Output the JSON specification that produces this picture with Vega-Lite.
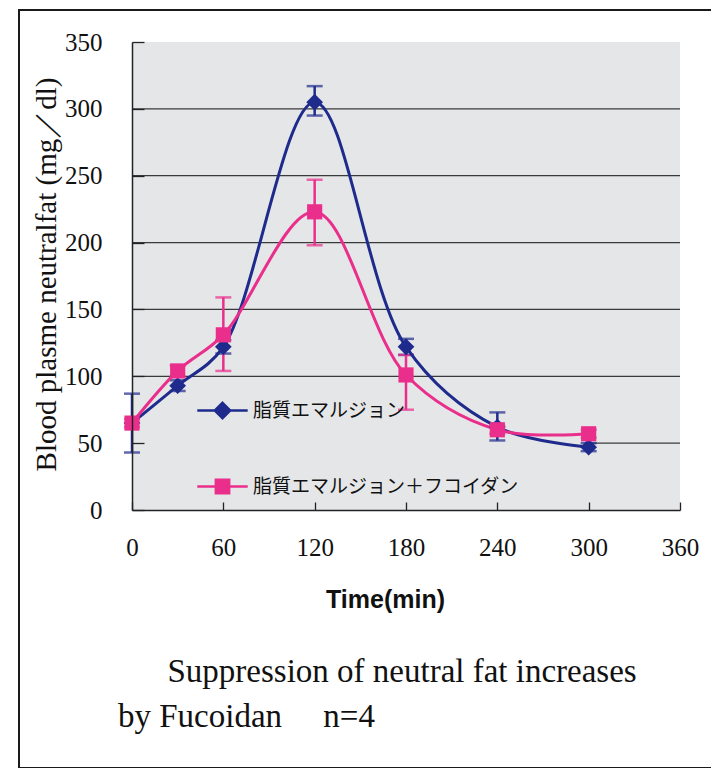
{
  "$schema": "https://vega.github.io/schema/vega-lite/v6.json",
  "width": 694,
  "height": 758,
  "padding": {"left": 19, "top": 10, "right": 0, "bottom": 0},
  "autosize": {"type": "pad"},
  "background": "white",
  "config": {
    "view": {"stroke": "#1a1a1a", "strokeWidth": 2},
    "font": "Liberation Serif"
  },
  "title": {
    "text": [
      "\u200b\u00a0\u00a0\u00a0\u00a0\u00a0\u00a0Suppression of neutral fat increases",
      "by Fucoidan\u00a0\u00a0\u00a0\u00a0\u00a0n=4"
    ],
    "orient": "bottom",
    "anchor": "start",
    "frame": "group",
    "offset": -112,
    "dx": 99,
    "baseline": "top",
    "font": "Liberation Serif",
    "fontSize": 33,
    "fontWeight": "normal",
    "color": "#111111",
    "lineHeight": 45
  },
  "data": {
    "values": [
      {"series": "脂質エマルジョン", "time": 0, "mean": 65, "lo": 43, "hi": 87},
      {"series": "脂質エマルジョン", "time": 30, "mean": 93, "lo": 89, "hi": 97},
      {"series": "脂質エマルジョン", "time": 60, "mean": 122, "lo": 117, "hi": 127},
      {"series": "脂質エマルジョン", "time": 120, "mean": 305, "lo": 295, "hi": 317},
      {"series": "脂質エマルジョン", "time": 180, "mean": 122, "lo": 116, "hi": 128},
      {"series": "脂質エマルジョン", "time": 240, "mean": 62, "lo": 52, "hi": 73},
      {"series": "脂質エマルジョン", "time": 300, "mean": 47, "lo": 44, "hi": 50},
      {"series": "脂質エマルジョン＋フコイダン", "time": 0, "mean": 65, "lo": 62, "hi": 68},
      {"series": "脂質エマルジョン＋フコイダン", "time": 30, "mean": 104, "lo": 100, "hi": 108},
      {"series": "脂質エマルジョン＋フコイダン", "time": 60, "mean": 131, "lo": 104, "hi": 159},
      {"series": "脂質エマルジョン＋フコイダン", "time": 120, "mean": 223, "lo": 198, "hi": 247},
      {"series": "脂質エマルジョン＋フコイダン", "time": 180, "mean": 101, "lo": 75, "hi": 116},
      {"series": "脂質エマルジョン＋フコイダン", "time": 240, "mean": 60, "lo": 57, "hi": 63},
      {"series": "脂質エマルジョン＋フコイダン", "time": 300, "mean": 57, "lo": 54, "hi": 60}
    ]
  },
  "layer": [
    {
      "data": {"values": [{}]},
      "mark": {"type": "rect", "fill": "#e5e6e8"},
      "encoding": {
        "x": {"datum": 0, "type": "quantitative", "title": "Time(min)", "scale": {"domain": [0, 360], "range": [113, 661], "nice": false, "zero": false}},
        "x2": {"datum": 360},
        "y": {"datum": 0, "type": "quantitative", "title": "Blood plasme neutralfat (mg／dl)", "scale": {"domain": [0, 350], "range": [500, 32], "nice": false, "zero": false}},
        "y2": {"datum": 350}
      }
    },
    {
      "data": {"values": [{"g": 100}, {"g": 150}, {"g": 200}, {"g": 250}, {"g": 300}]},
      "mark": {"type": "rule", "color": "#3a3a3a", "strokeWidth": 1.2},
      "encoding": {
        "x": {"datum": 0, "type": "quantitative", "title": "Time(min)"},
        "x2": {"datum": 360},
        "y": {"field": "g", "type": "quantitative", "title": "Blood plasme neutralfat (mg／dl)"}
      }
    },
    {
      "data": {"values": [{}]},
      "mark": {"type": "rule", "color": "#3a3a3a", "strokeWidth": 1.2},
      "encoding": {
        "x": {"datum": 300, "type": "quantitative", "title": "Time(min)"},
        "x2": {"datum": 360},
        "y": {"datum": 50, "type": "quantitative", "title": "Blood plasme neutralfat (mg／dl)"}
      }
    },
    {
      "mark": {"type": "errorbar", "ticks": {"size": 16, "thickness": 2.5}, "rule": {"strokeWidth": 2.5}},
      "encoding": {
        "x": {"field": "time", "type": "quantitative", "title": "Time(min)"},
        "y": {"field": "lo", "type": "quantitative", "title": "Blood plasme neutralfat (mg／dl)"},
        "y2": {"field": "hi"},
        "color": {"field": "series", "type": "nominal"}
      }
    },
    {
      "mark": {"type": "line", "interpolate": "catmull-rom", "strokeWidth": 3},
      "encoding": {
        "x": {
          "field": "time", "type": "quantitative", "title": "Time(min)",
          "axis": {
            "orient": "bottom", "offset": -258, "values": [0, 60, 120, 180, 240, 300, 360],
            "grid": false, "zindex": 1,
            "domainColor": "#222222", "domainWidth": 1.5,
            "tickColor": "#222222", "tickWidth": 1.3, "tickSize": -8,
            "labelFont": "Liberation Serif", "labelFontSize": 25, "labelColor": "#111111",
            "labelPadding": 33, "labelFlush": false, "labelOverlap": false,
            "titleFont": "Liberation Sans", "titleFontWeight": "bold",
            "titleFontSize": 25, "titleColor": "#111111",
            "titleX": 366, "titleY": 97, "titleBaseline": "alphabetic", "titleAlign": "center"
          }
        },
        "y": {
          "field": "mean", "type": "quantitative", "title": "Blood plasme neutralfat (mg／dl)",
          "axis": {
            "orient": "left", "offset": -113, "values": [0, 50, 100, 150, 200, 250, 300, 350],
            "grid": false, "zindex": 1,
            "domainColor": "#222222", "domainWidth": 1.5,
            "tickColor": "#222222", "tickWidth": 1.3, "tickSize": -12,
            "labelFont": "Liberation Serif", "labelFontSize": 25, "labelColor": "#111111",
            "labelPadding": 42, "labelOverlap": false,
            "titleFont": "Liberation Serif",
            "titleFontWeight": "normal", "titleFontSize": 29, "titleColor": "#111111",
            "titleX": -86, "titleY": 264, "titleAngle": 270,
            "titleBaseline": "middle", "titleAlign": "center"
          }
        },
        "color": {
          "field": "series", "type": "nominal",
          "scale": {"domain": ["脂質エマルジョン", "脂質エマルジョン＋フコイダン"], "range": ["#1f2b8c", "#ea2e8b"]},
          "legend": {
            "orient": "none", "legendX": 194, "legendY": 391, "title": null, "padding": 0,
            "labelFont": "Noto Sans CJK JP", "labelFontSize": 19, "labelColor": "#111111",
            "labelOffset": 21, "rowPadding": 50, "labelLimit": 500,
            "symbolSize": 196, "symbolStrokeWidth": 2.5, "symbolType": "M-3.6,0H3.6",
            "encode": {
              "symbols": {
                "update": {
                  "shape": {"signal": "datum.value === '脂質エマルジョン' ? 'M-3.6,0H3.6M0,-1.1L1.1,0L0,1.1L-1.1,0Z' : 'M-3.6,0H3.6M-0.95,-0.95H0.95V0.95H-0.95Z'"},
                  "fill": {"signal": "scale('color', datum.value)"},
                  "stroke": {"signal": "scale('color', datum.value)"},
                  "opacity": {"value": 1},
                  "fillOpacity": {"value": 1},
                  "strokeOpacity": {"value": 1},
                  "strokeWidth": {"value": 2.5}
                }
              }
            }
          }
        }
      }
    },
    {
      "mark": {"type": "point", "filled": true, "opacity": 1},
      "encoding": {
        "x": {"field": "time", "type": "quantitative", "title": "Time(min)"},
        "y": {"field": "mean", "type": "quantitative", "title": "Blood plasme neutralfat (mg／dl)"},
        "color": {"field": "series", "type": "nominal"},
        "shape": {"condition": {"test": "datum.series === '脂質エマルジョン'", "value": "diamond"}, "value": "square"},
        "size": {"condition": {"test": "datum.series === '脂質エマルジョン'", "value": 280}, "value": 230}
      }
    }
  ]
}
